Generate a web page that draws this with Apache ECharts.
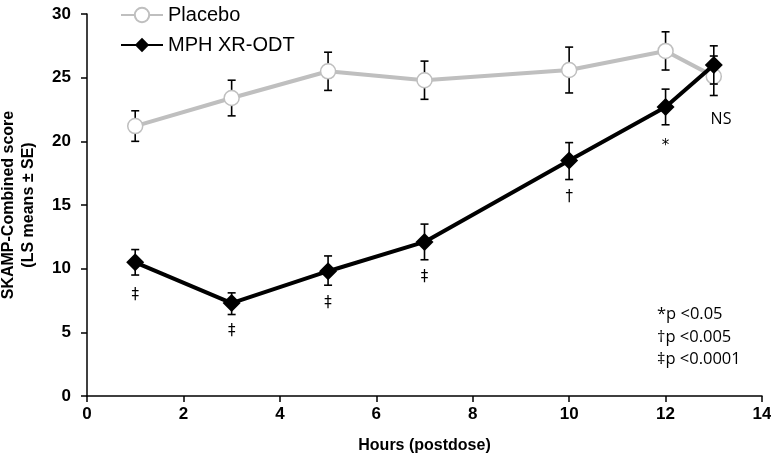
<!DOCTYPE html>
<html><head><meta charset="utf-8">
<script src="https://cdn.jsdelivr.net/npm/echarts@6/dist/echarts.min.js"></script>
<style>html,body{margin:0;padding:0;background:#fff}#c{width:771px;height:463px}</style>
</head><body><div id="c"></div>
<script>
const hours = [1, 3, 5, 7, 10, 12, 13];
const placeboMean = [21.2, 23.4, 25.5, 24.8, 25.6, 27.1, 25.1];
const placeboLow  = [20.0, 22.0, 24.0, 23.3, 23.8, 25.6, 23.6];
const placeboHigh = [22.4, 24.8, 27.0, 26.3, 27.4, 28.6, 26.7];
const mphMean = [10.5, 7.3, 9.8, 12.1, 18.5, 22.7, 26.0];
const mphLow  = [9.5, 6.4, 8.7, 10.7, 17.0, 21.3, 24.5];
const mphHigh = [11.5, 8.1, 11.0, 13.5, 19.9, 24.1, 27.5];
const sigHours = [1, 3, 5, 7, 10, 12, 13.15];
const sigY = [7.9, 5.1, 7.3, 9.3, 15.6, 19.6, 21.7];
const sigLabels = ['‡', '‡', '‡', '‡', '†', '*', 'NS'];
const pNotes = ['*p <0.05', '†p <0.005', '‡p <0.0001'];

const chart = echarts.init(document.getElementById('c'));
function errData(low, high) { return hours.map((h, i) => [h, low[i], high[i]]); }
function errRender(params, api) {
  const x = api.value(0);
  const lo = api.coord([x, api.value(1)]);
  const hi = api.coord([x, api.value(2)]);
  const w = 4;
  const st = { stroke: '#000', lineWidth: 1.6 };
  return { type: 'group', children: [
    { type: 'line', shape: { x1: lo[0], y1: lo[1], x2: hi[0], y2: hi[1] }, style: st },
    { type: 'line', shape: { x1: lo[0] - w, y1: lo[1], x2: lo[0] + w, y2: lo[1] }, style: st },
    { type: 'line', shape: { x1: hi[0] - w, y1: hi[1], x2: hi[0] + w, y2: hi[1] }, style: st }
  ]};
}
function sigRender(params, api) {
  const p = api.coord([api.value(0), api.value(1)]);
  const t = sigLabels[params.dataIndex];
  return { type: 'text', x: p[0], y: p[1], style: {
    text: t, align: 'center', verticalAlign: 'middle', fill: '#000',
    font: t === 'NS' ? '16px "Open Sans", sans-serif' : '15px "DejaVu Sans", sans-serif' } };
}
const FF = '"Liberation Sans", Arial, sans-serif';
const boldAxis = { fontFamily: FF, fontWeight: 'bold', fontSize: 17, color: '#000' };
chart.setOption({
  animation: false,
  grid: { left: 87, right: 9, top: 14, bottom: 67, containLabel: false, outerBoundsMode: 'none' },
  legend: {
    orient: 'vertical', left: 115, top: 0, itemGap: 10, itemWidth: 42, itemHeight: 18,
    data: ['Placebo', 'MPH XR-ODT'],
    textStyle: { fontFamily: FF, fontSize: 20, color: '#000' }
  },
  xAxis: {
    type: 'value', min: 0, max: 14, interval: 2,
    name: 'Hours (postdose)', nameLocation: 'middle', nameGap: 42,
    nameTextStyle: Object.assign({}, boldAxis, { fontSize: 16 }),
    axisLine: { lineStyle: { color: '#000', width: 1.5 } },
    axisTick: { show: true, length: 6, lineStyle: { color: '#000', width: 1.5 } },
    axisLabel: Object.assign({ margin: 10 }, boldAxis),
    splitLine: { show: false }
  },
  yAxis: {
    type: 'value', min: 0, max: 30, interval: 5,
    name: 'SKAMP-Combined score\n(LS means ± SE)', nameLocation: 'middle', nameGap: 48,
    nameTextStyle: Object.assign({}, boldAxis, { fontSize: 16, lineHeight: 20 }),
    axisLine: { show: true, lineStyle: { color: '#000', width: 1.5 } },
    axisTick: { show: true, length: 6, lineStyle: { color: '#000', width: 1.5 } },
    axisLabel: Object.assign({ margin: 16 }, boldAxis),
    splitLine: { show: false }
  },
  series: [
    { type: 'custom', name: 'errP', renderItem: errRender, data: errData(placeboLow, placeboHigh), z: 3, silent: true },
    { type: 'line', name: 'Placebo', data: hours.map((h, i) => [h, placeboMean[i]]),
      symbol: 'circle', symbolSize: 15, showAllSymbol: true,
      lineStyle: { color: '#bfbfbf', width: 4 },
      itemStyle: { color: '#fff', borderColor: '#bfbfbf', borderWidth: 1.5 }, z: 4 },
    { type: 'custom', name: 'errM', renderItem: errRender, data: errData(mphLow, mphHigh), z: 5, silent: true },
    { type: 'line', name: 'MPH XR-ODT', data: hours.map((h, i) => [h, mphMean[i]]),
      symbol: 'diamond', symbolSize: 18, showAllSymbol: true,
      lineStyle: { color: '#000', width: 4 },
      itemStyle: { color: '#000' }, z: 6 },
    { type: 'custom', name: 'sig', renderItem: sigRender, silent: true,
      data: sigHours.map((h, i) => [h, sigY[i]]), z: 7 }
  ],
  graphic: pNotes.map((t, i) => ({
    type: 'text', left: 657, top: 306 + i * 22.5,
    style: { text: t, fontFamily: '"Open Sans", sans-serif', fontSize: 16.5, fill: '#000' }
  }))
});
</script></body></html>
